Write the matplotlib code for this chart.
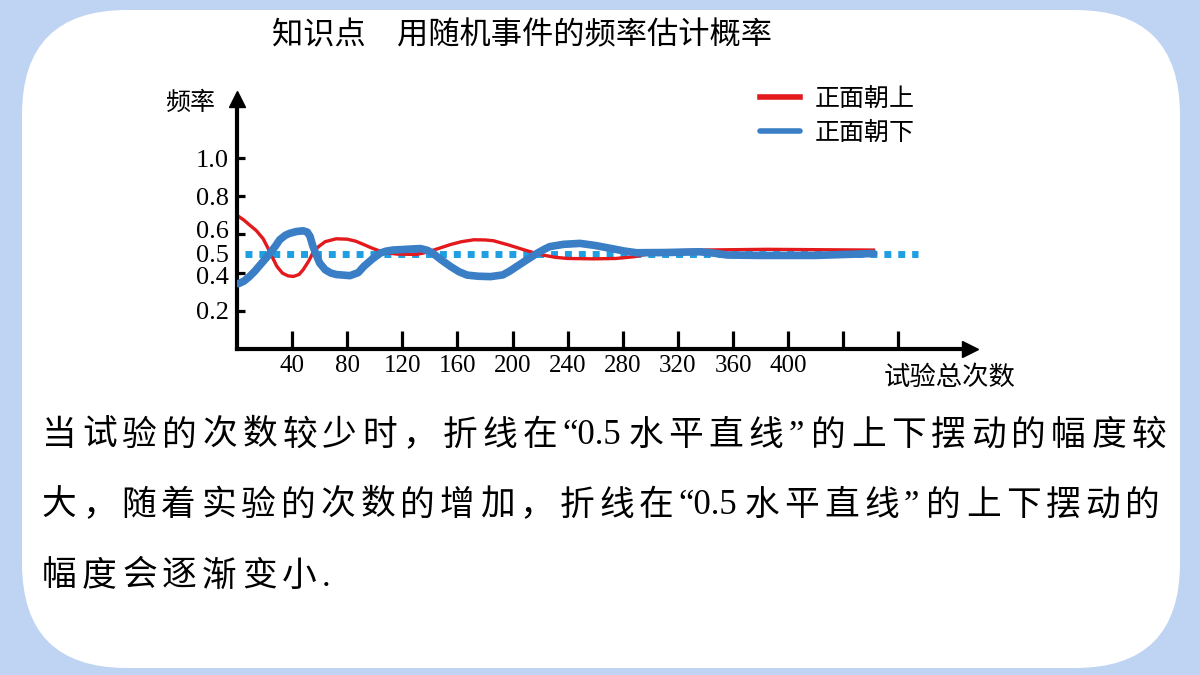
import re

import matplotlib

matplotlib.use("Agg")
import matplotlib.pyplot as plt
from matplotlib.patches import FancyBboxPatch
from matplotlib.transforms import ScaledTranslation

plt.rcParams["font.family"] = ["Noto Sans CJK SC", "DejaVu Sans"]
SERIF = ["Liberation Serif", "Noto Sans CJK SC"]

TITLE = "知识点\u3000用随机事件的频率估计概率"
Y_LABEL = "频率"
X_LABEL = "试验总次数"
SERIES_NAMES = ["正面朝上", "正面朝下"]
NOTE_LINES = [
    "当试验的次数较少时，折线在“0.5水平直线”的上下摆动的幅度较",
    "大，随着实验的次数的增加，折线在“0.5水平直线”的上下摆动的",
    "幅度会逐渐变小.",
]

x_ticks = [40, 80, 120, 160, 200, 240, 280, 320, 360, 400, 440, 480]
x_tick_labels = ["40", "80", "120", "160", "200", "240", "280", "320",
                 "360", "400", "", ""]
y_ticks = [0.2, 0.4, 0.5, 0.6, 0.8, 1.0]
y_tick_labels = ["0.2", "0.4", "0.5", "0.6", "0.8", "1.0"]

# frequency of heads (red) and tails (blue)
heads_x = [0, 5, 9, 14, 19, 22, 25, 29, 33, 37, 41, 45, 48, 52, 55, 59, 64,
           72, 80, 86, 92, 98, 104, 110, 116, 130, 135, 140, 147, 155, 163,
           172, 180, 186, 197, 208, 215, 222, 231, 240, 259, 275, 288, 298,
           307, 320, 336, 360, 385, 420, 462]
heads_y = [0.70, 0.675, 0.65, 0.62, 0.577, 0.535, 0.49, 0.432, 0.397, 0.383,
           0.38, 0.39, 0.415, 0.46, 0.502, 0.535, 0.562, 0.577, 0.575, 0.565,
           0.547, 0.528, 0.512, 0.502, 0.497, 0.495, 0.502, 0.512, 0.528,
           0.547, 0.562, 0.572, 0.571, 0.567, 0.545, 0.52, 0.505, 0.492,
           0.48, 0.474, 0.472, 0.474, 0.483, 0.497, 0.509, 0.515, 0.518,
           0.52, 0.522, 0.52, 0.518]
tails_x = [1, 5, 9, 13, 17, 21, 24, 28, 31, 35, 38, 43, 48, 51, 53, 55, 57,
           60, 64, 68, 72, 82, 88, 92, 98, 104, 108, 113, 123, 133, 138, 142,
           148, 155, 161, 167, 175, 184, 193, 198, 203, 210, 218, 223, 227,
           237, 249, 260, 271, 281, 290, 310, 336, 346, 356, 380, 420, 462]
tails_y = [0.342, 0.355, 0.379, 0.408, 0.442, 0.475, 0.502, 0.54, 0.572,
           0.595, 0.605, 0.615, 0.619, 0.612, 0.59, 0.54, 0.502, 0.45, 0.415,
           0.398, 0.39, 0.384, 0.40, 0.432, 0.47, 0.502, 0.512, 0.518, 0.522,
           0.526, 0.517, 0.502, 0.468, 0.432, 0.405, 0.387, 0.381, 0.379,
           0.388, 0.408, 0.432, 0.465, 0.502, 0.522, 0.536, 0.548, 0.553,
           0.542, 0.527, 0.513, 0.504, 0.505, 0.509, 0.502, 0.492, 0.49,
           0.49, 0.50]
baseline = 0.5
baseline_x = [6, 494]

RED = "#e3191c"
BLUE = "#3a7fc6"
DOT_BLUE = "#1e9fe3"
BG = "#bfd4f2"

fig = plt.figure(figsize=(12, 6.75), dpi=100, facecolor=BG)

# slide background in pixel coordinates
bg = fig.add_axes([0, 0, 1, 1], zorder=0)
bg.set_xlim(0, 1200)
bg.set_ylim(675, 0)
bg.axis("off")
bg.add_patch(FancyBboxPatch((22, 10), 1158, 658,
                            boxstyle="round,pad=0,rounding_size=105",
                            facecolor="white", edgecolor="none"))
bg.text(522, 35, TITLE, fontsize=22.5, ha="center", va="center")
bg.text(190, 103, Y_LABEL, fontsize=18, ha="center", va="center")
bg.text(950, 377, X_LABEL, fontsize=19, ha="center", va="center")

# chart
ax = fig.add_axes([237 / 1200, 1 - 349 / 675, 733 / 1200, 250 / 675], zorder=2)
ax.set_facecolor("none")
ax.set_xlim(0, 532)
ax.set_ylim(0, 1.309)
ax.plot(baseline_x, [baseline, baseline], color=DOT_BLUE, lw=5,
        linestyle=(0, (1, 1)), dash_capstyle="butt", zorder=1)
ax.plot(heads_x, heads_y, color=RED, lw=2.4, label=SERIES_NAMES[0], zorder=2)
ax.plot(tails_x, tails_y, color=BLUE, lw=5.5, label=SERIES_NAMES[1],
        solid_capstyle="round", solid_joinstyle="round", zorder=3)

for side in ("top", "right"):
    ax.spines[side].set_visible(False)
for side in ("left", "bottom"):
    ax.spines[side].set_linewidth(3)
ax.plot(1, 0, ">k", ms=11, transform=ax.transAxes, clip_on=False)
ax.plot(0, 1, "^k", ms=11, transform=ax.transAxes, clip_on=False)

ax.set_xticks(x_ticks, x_tick_labels, fontsize=18, family=SERIF)
ax.set_yticks(y_ticks, y_tick_labels, fontsize=19, family=SERIF)
ax.tick_params(axis="x", direction="in", length=13, width=2.3, pad=4)
ax.tick_params(axis="y", direction="in", length=6, width=2.3, pad=6)
ax.yaxis.get_major_ticks()[y_ticks.index(0.5)].tick1line.set_visible(False)
# the crowded labels around 0.5 are nudged apart, as on the slide
for val, dy in ((0.6, 5), (0.4, -3)):
    lbl = ax.yaxis.get_major_ticks()[y_ticks.index(val)].label1
    lbl.set_transform(lbl.get_transform()
                      + ScaledTranslation(0, dy / 100, fig.dpi_scale_trans))

leg = ax.legend(loc="upper left", bbox_to_anchor=(760 / 1200, 1 - 86 / 675),
                bbox_transform=fig.transFigure, frameon=False, fontsize=18,
                handlelength=1.6, handletextpad=0.6, labelspacing=0.3,
                borderpad=0, borderaxespad=0)
for h in leg.legend_handles:
    h.set_linewidth(4)

# note paragraph, spread out like justified text
renderer = fig.canvas.get_renderer()
NOTE_SIZE = 25
em = NOTE_SIZE * 100 / 72


def layout_line(text, y, x0, x1=None, gap=None):
    tokens = re.findall(r"“?[0-9.]+|.", text)
    arts, widths = [], []
    for t in tokens:
        a = bg.text(0, y, t, fontsize=NOTE_SIZE, family=SERIF,
                    ha="left", va="center")
        if ord(t[-1]) > 0x2E80:
            w = em
        else:
            w = a.get_window_extent(renderer).width + 2
        arts.append(a)
        widths.append(w)
    if gap is None:
        gap = (x1 - x0 - sum(widths)) / (len(tokens) - 1)
    x = x0
    for a, w in zip(arts, widths):
        a.set_x(x)
        x += w + gap
    return gap


g = layout_line(NOTE_LINES[0], 436, 42, 1166)
layout_line(NOTE_LINES[1], 506, 42, 1160)
layout_line(NOTE_LINES[2], 577, 42, gap=g)

fig.savefig("out.png", dpi=100, facecolor=BG)
